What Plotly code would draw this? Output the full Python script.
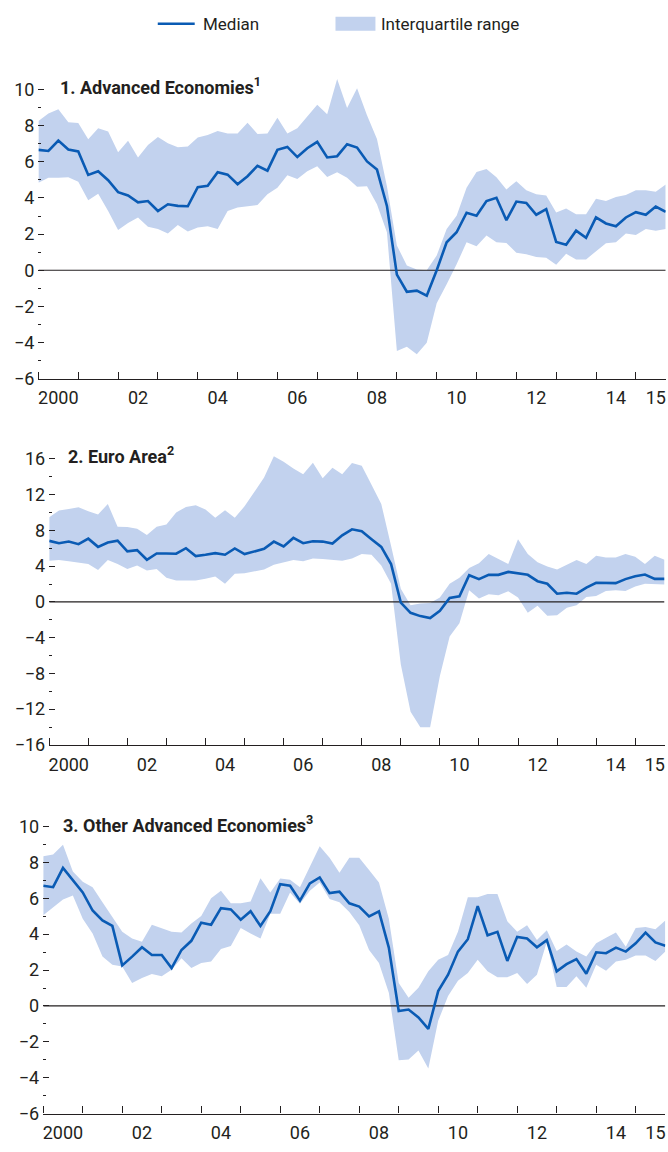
import plotly.graph_objects as go

# ---------------- data (quarterly, 2000Q1 - 2015Q4) ----------------
years = list(range(2000, 2016))
quarters = [1, 2, 3, 4]

ae_median = [6.66, 6.6, 7.17, 6.68, 6.57, 5.27, 5.47, 4.98, 4.32, 4.14, 3.76, 3.83, 3.28, 3.65, 3.56, 3.54,
             4.6, 4.67, 5.42, 5.29, 4.76, 5.2, 5.78, 5.51, 6.66, 6.82, 6.26, 6.75, 7.1, 6.24, 6.31,
             6.97, 6.79, 6.02, 5.57, 3.56, -0.24, -1.19, -1.13, -1.41, 0.0, 1.55, 2.1, 3.18, 3.01, 3.83,
             4.01, 2.77, 3.8, 3.72, 3.07, 3.38, 1.57, 1.41, 2.19, 1.79, 2.92, 2.59, 2.43, 2.92, 3.21,
             3.07, 3.52, 3.23]
ae_upper = [8.25, 8.67, 8.9, 8.18, 8.14, 7.24, 7.85, 7.68, 6.53, 7.17, 6.24, 6.93, 7.37, 7.03, 6.8, 6.84,
            7.34, 7.48, 7.7, 7.57, 7.57, 8.16, 7.54, 7.57, 8.43, 7.57, 7.85, 8.49, 9.16, 8.63, 10.58,
            8.98, 10.07, 8.58, 7.26, 4.65, 1.37, 0.27, 0.04, 0.0, 0.82, 2.28, 3.01, 4.56, 5.44, 5.6,
            5.15, 4.47, 4.93, 4.42, 4.2, 4.14, 3.19, 3.41, 3.1, 3.1, 3.96, 3.83, 4.05, 4.16, 4.42,
            4.43, 4.34, 4.74]
ae_lower = [4.84, 5.11, 5.11, 5.15, 4.89, 3.87, 4.23, 3.28, 2.23, 2.61, 2.92, 2.41, 2.28, 2.04, 2.5, 2.15,
            2.37, 2.43, 2.28, 3.28, 3.47, 3.56, 3.61, 4.2, 4.56, 5.26, 5.05, 5.47, 5.75, 5.16, 5.42,
            5.11, 4.62, 4.65, 3.65, 2.1, -4.47, -4.23, -4.65, -4.01, -1.82, -0.77, 0.33, 1.55, 1.33, 1.92,
            1.55, 1.51, 0.97, 0.88, 0.73, 0.69, 0.31, 0.91, 0.6, 0.6, 1.06, 1.5, 1.55, 2.04, 1.95,
            2.28, 2.19, 2.28]

ea_median = [6.83, 6.57, 6.75, 6.46, 7.08, 6.16, 6.64, 6.86, 5.65, 5.79, 4.72, 5.42, 5.42, 5.39, 6.01, 5.13,
             5.28, 5.46, 5.28, 5.98, 5.35, 5.65, 5.94, 6.75, 6.2, 7.16, 6.57, 6.79, 6.75, 6.53, 7.45,
             8.12, 7.9, 7.01, 6.16, 4.24, -0.07, -1.22, -1.59, -1.81, -1.0, 0.44, 0.63, 2.99, 2.55, 3.03,
             3.03, 3.36, 3.21, 3.03, 2.32, 2.03, 0.92, 1.03, 0.92, 1.59, 2.14, 2.14, 2.1, 2.55, 2.88,
             3.06, 2.58, 2.58]
ea_upper = [9.48, 10.22, 10.4, 10.59, 10.15, 9.78, 10.96, 8.41, 8.38, 8.19, 7.49, 8.41, 8.67, 10.0, 10.63, 10.81,
            10.33, 9.41, 10.26, 9.41, 10.7, 12.36, 13.91, 16.31, 15.68, 14.94, 14.28, 15.57, 13.84, 15.02, 14.28,
            15.54, 15.24, 13.1, 10.96, 6.27, 1.48, -0.37, -0.18, -0.11, 0.48, 2.03, 2.69, 3.8, 4.32, 5.35,
            4.8, 4.24, 7.01, 5.35, 4.43, 3.95, 3.62, 4.17, 4.69, 4.24, 5.17, 4.98, 4.98, 5.35, 5.06,
            4.24, 5.17, 4.72]
ea_lower = [4.61, 4.69, 4.54, 4.39, 4.24, 3.58, 4.69, 4.24, 3.69, 4.06, 3.51, 3.69, 2.69, 2.4, 2.4, 2.4,
            2.58, 2.84, 2.03, 3.14, 3.21, 3.43, 3.62, 4.17, 4.43, 4.69, 4.54, 4.87, 4.8, 4.72, 4.61,
            4.87, 5.35, 5.28, 4.06, 2.03, -7.01, -12.29, -14.02, -14.02, -8.3, -3.87, -2.4, 1.29, 0.37, 0.85,
            0.74, 1.18, 0.48, -1.22, -0.44, -1.55, -1.48, -0.66, -0.37, 0.55, 0.66, 1.22, 1.29, 1.22, 1.73,
            2.03, 1.96, 1.96]

oae_median = [6.7, 6.62, 7.69, 7.03, 6.33, 5.32, 4.77, 4.46, 2.26, 2.75, 3.27, 2.84, 2.84, 2.11, 3.12, 3.63,
              4.64, 4.53, 5.45, 5.38, 4.81, 5.28, 4.46, 5.28, 6.79, 6.7, 5.87, 6.83, 7.16, 6.29, 6.37,
              5.72, 5.54, 4.99, 5.27, 3.25, -0.28, -0.2, -0.64, -1.28, 0.83, 1.74, 3.03, 3.72, 5.56, 3.94,
              4.13, 2.51, 3.85, 3.76, 3.27, 3.67, 1.93, 2.33, 2.61, 1.8, 2.99, 2.94, 3.25, 3.03, 3.49,
              4.09, 3.54, 3.36]
oae_upper = [8.35, 8.44, 8.99, 7.49, 6.92, 6.61, 5.78, 4.95, 4.13, 3.76, 3.58, 4.53, 4.31, 4.13, 4.09, 4.59,
             5.01, 6.0, 6.42, 5.72, 5.72, 5.82, 7.12, 6.33, 7.1, 7.03, 6.61, 7.8, 8.9, 8.26, 7.43,
             8.26, 8.26, 7.58, 6.88, 4.86, 1.28, 0.46, 1.01, 1.93, 2.57, 2.84, 4.13, 6.06, 6.06, 6.24,
             6.24, 4.72, 4.13, 4.5, 3.67, 4.22, 3.06, 3.43, 3.03, 2.75, 3.49, 3.8, 4.09, 3.3, 4.35,
             4.4, 4.28, 4.77]
oae_lower = [5.05, 5.5, 5.93, 6.15, 4.86, 4.04, 2.75, 2.29, 2.2, 1.28, 1.56, 1.78, 1.65, 2.02, 2.66, 2.11,
             2.39, 2.48, 3.17, 3.34, 4.35, 4.04, 3.76, 5.14, 5.14, 6.33, 5.69, 6.42, 6.88, 5.96, 5.78,
             5.23, 4.5, 3.12, 2.39, 0.73, -3.03, -2.99, -2.48, -3.49, -0.83, 0.55, 1.41, 1.83, 2.57, 1.93,
             1.6, 1.6, 1.83, 1.23, 1.74, 3.58, 1.05, 1.05, 1.65, 1.01, 2.29, 1.96, 2.48, 2.57, 2.81,
             2.81, 2.51, 3.03]

year_labels = ["2000", "02", "04", "06", "08", "10", "12", "14", "15"]
label_years = [2000, 2002, 2004, 2006, 2008, 2010, 2012, 2014, 2015]

titles = ["1. Advanced Economies<sup>1</sup>", "2. Euro Area<sup>2</sup>",
          "3. Other Advanced Economies<sup>3</sup>"]

# quarterly positions on a continuous year axis
x = [y + (q - 1) / 4 for y in years for q in quarters]

# ---------------- style / geometry ----------------
W, H = 668, 1152


def fx(px):
    return px / W


def fy(py):
    return 1 - py / H


FONT = "Roboto, Liberation Sans, Arial, sans-serif"
TXT = "#231f20"
BLUE = "#0a5bb4"
FILL = "#c2d2ee"
AX = "#231f20"

panels = [
    dict(med=ae_median, lo=ae_lower, hi=ae_upper, yr=[-6, 10.8], major=2, minor_step=1,
         ymin=-6, ymax=10, xpx=(37.5, 665.7), ypx=(380.7, 18.27), title_px=(57, 85)),
    dict(med=ea_median, lo=ea_lower, hi=ea_upper, yr=[-16, 17], major=4, minor_step=2,
         ymin=-16, ymax=16, xpx=(48.3, 664.5), ypx=(750.7, 9.03), title_px=(65, 458)),
    dict(med=oae_median, lo=oae_lower, hi=oae_upper, yr=[-6, 10.6], major=2, minor_step=1,
         ymin=-6, ymax=10, xpx=(42.3, 665.3), ypx=(1123.3, 18.13), title_px=(60, 831)),
]

fig = go.Figure()
layout = dict(width=W, height=H, margin=dict(l=0, r=0, t=0, b=0, pad=0),
              paper_bgcolor="white", plot_bgcolor="white", showlegend=False,
              font=dict(family=FONT, color=TXT, size=17))
annotations = []
shapes = []

for k, p in enumerate(panels):
    n = k + 1
    xa = "x" if n == 1 else f"x{n}"
    ya = "y" if n == 1 else f"y{n}"
    # interquartile band
    fig.add_trace(go.Scatter(x=x, y=p["lo"], mode="lines", line=dict(width=0, color=FILL),
                             xaxis=xa, yaxis=ya, hoverinfo="skip", showlegend=False))
    fig.add_trace(go.Scatter(x=x, y=p["hi"], mode="lines", line=dict(width=0, color=FILL),
                             fill="tonexty", fillcolor=FILL, xaxis=xa, yaxis=ya,
                             name="Interquartile range", showlegend=False))
    # zero line
    fig.add_trace(go.Scatter(x=[x[0], x[-1]], y=[0, 0], mode="lines",
                             line=dict(width=1.2, color=AX), xaxis=xa, yaxis=ya,
                             hoverinfo="skip", showlegend=False))
    # median
    fig.add_trace(go.Scatter(x=x, y=p["med"], mode="lines", line=dict(width=2.6, color=BLUE),
                             xaxis=xa, yaxis=ya, name="Median", showlegend=False))

    bottom_px, ppu = p["ypx"]
    top_px = bottom_px - (p["yr"][1] - p["yr"][0]) * ppu
    ydom = [fy(bottom_px), fy(top_px)]
    xdom = [fx(p["xpx"][0]), fx(p["xpx"][1])]

    majors = list(range(p["ymin"], p["ymax"] + 1, p["major"]))
    minors = [v for v in range(p["ymin"], p["ymax"] + 1, p["minor_step"]) if v not in majors]

    xkey = "xaxis" if n == 1 else f"xaxis{n}"
    layout[xkey] = dict(
        domain=xdom, anchor=ya, range=[x[0], x[-1]],
        tickmode="array", tickvals=[yv + 0.5 for yv in label_years], ticktext=year_labels,
        ticks="", showgrid=False, zeroline=False, showline=True, linecolor=AX, linewidth=1.2,
        tickfont=dict(family=FONT, size=18, color=TXT), ticklabelstandoff=3,
        ticklabeloverflow="allow",
        minor=dict(tickmode="array", tickvals=years, ticks="inside", ticklen=7,
                   tickwidth=1.2, tickcolor=AX, showgrid=False),
    )
    ykey = "yaxis" if n == 1 else f"yaxis{n}"
    common_y = dict(range=p["yr"], tickmode="array", tickvals=majors, ticks="inside",
                    ticklen=6, tickwidth=1.2, tickcolor=AX, showgrid=False, zeroline=False,
                    showline=False,
                    minor=dict(tickmode="array", tickvals=minors, ticks="inside", ticklen=3,
                               tickwidth=1.2, tickcolor=AX, showgrid=False))
    layout[ykey] = dict(domain=ydom, anchor=xa, side="left",
                        tickfont=dict(family=FONT, size=18, color=TXT), ticklabelstandoff=3,
                        ticklabeloverflow="allow", **common_y)
    rkey = f"yaxis{n + 3}"
    layout[rkey] = dict(overlaying=ya, anchor=xa, side="right", showticklabels=False, **common_y)

    tx, ty = p["title_px"]
    annotations.append(dict(text=f"<b>{titles[k]}</b>", xref="paper", yref="paper",
                            x=fx(tx), y=fy(ty), xanchor="left", yanchor="middle",
                            showarrow=False, font=dict(family=FONT, size=18, color=TXT)))

# legend (drawn as paper-space decorations)
ly = fy(22)
shapes.append(dict(type="line", xref="paper", yref="paper", x0=fx(157), x1=fx(194),
                   y0=ly, y1=ly, line=dict(color=BLUE, width=2.6)))
shapes.append(dict(type="rect", xref="paper", yref="paper", x0=fx(335), x1=fx(375),
                   y0=fy(29), y1=fy(15), fillcolor=FILL, line=dict(width=0)))
annotations.append(dict(text="Median", xref="paper", yref="paper", x=fx(200), y=ly,
                        xanchor="left", yanchor="middle", showarrow=False,
                        font=dict(family=FONT, size=17, color=TXT)))
annotations.append(dict(text="Interquartile range", xref="paper", yref="paper", x=fx(379), y=ly,
                        xanchor="left", yanchor="middle", showarrow=False,
                        font=dict(family=FONT, size=17, color=TXT)))

layout["annotations"] = annotations
layout["shapes"] = shapes
fig.update_layout(**layout)
fig.write_html("out.html",
               config={"displayModeBar": False},
               post_script="document.body.style.margin='0px';"
                           "document.body.style.overflow='hidden';")
